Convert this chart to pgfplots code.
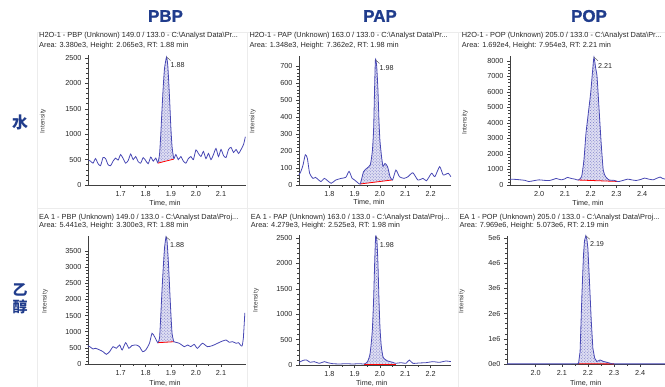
\documentclass[border=0pt]{standalone}
\usepackage{fontspec}
\setmainfont{Liberation Sans}
\newfontfamily\cjk{Noto Sans CJK SC}
\newfontfamily\hdrfont[BoldFeatures={FakeBold=1.3}]{Liberation Sans}
\usepackage{pgfplots}
\pgfplotsset{compat=1.18}
\usetikzlibrary{patterns}
\definecolor{trace}{RGB}{72,72,180}
\definecolor{peakfill}{RGB}{222,222,242}
\definecolor{hdr}{RGB}{32,60,140}
\definecolor{frame}{RGB}{236,236,236}
\pgfplotsset{chrom/.style={
  scale only axis, axis lines*=left,
  axis line style={-,draw=black!75,line width=0.6bp},
  tick align=outside, major tick length=3bp, minor tick length=1.6bp,
  every tick/.style={black!75, line width=0.5bp},
  minor y tick num=4, minor x tick num=1,
  ymin=0, clip=false, scaled ticks=false,
  tick label style={font=\fontsize{7.3}{8}\selectfont, text=black!85},
  /pgf/number format/1000 sep={},
  /pgf/number format/assume math mode=true,
  xticklabel style={/pgf/number format/fixed,/pgf/number format/fixed zerofill,/pgf/number format/precision=1},
}}
\tikzset{ttl/.style={anchor=west,font=\fontsize{7.4}{8}\selectfont,text=black!85,inner sep=0pt},
  ylab/.style={rotate=90,font=\fontsize{6.5}{7}\selectfont,text=black!75,inner sep=0pt},
  xlab/.style={font=\fontsize{7.2}{8}\selectfont,text=black!85,inner sep=0pt},
  pk/.style={anchor=west,font=\fontsize{7.2}{8}\selectfont,text=black!85,inner sep=0pt,xshift=4bp,yshift=-8.5bp},
  lead/.style={black!70,line width=0.4bp},
  pkfill/.style={draw=none, fill=peakfill, postaction={pattern=crosshatch dots, pattern color=trace!75}},
  tr/.style={trace, line width=0.8bp, smooth, tension=0.35},
  hdrs/.style={font=\hdrfont\bfseries\fontsize{17}{18}\selectfont,text=hdr}}
\begin{document}
\begin{tikzpicture}
\path[use as bounding box] (0,0) rectangle (665bp,387bp);
% frames
\draw[frame,line width=0.5bp] (37.7bp,0) -- (37.7bp,355bp) -- (665bp,355bp);
\draw[frame,line width=0.5bp] (247.3bp,0) -- (247.3bp,355bp);
\draw[frame,line width=0.5bp] (458.3bp,0) -- (458.3bp,355bp);
\draw[frame,line width=0.5bp] (37.7bp,179bp) -- (665bp,179bp);
% headers
\node[hdrs] at (165.5bp,371bp) {PBP};
\node[hdrs] at (380bp,371bp) {PAP};
\node[hdrs] at (589bp,371bp) {POP};
\node[font=\cjk\fontsize{16}{17}\selectfont\bfseries,text=hdr] at (20bp,265bp) {水};
\node[font=\cjk\fontsize{15}{16}\selectfont\bfseries,text=hdr] at (20bp,97bp) {乙};
\node[font=\cjk\fontsize{15}{16}\selectfont\bfseries,text=hdr] at (20bp,80bp) {醇};
% titles
\node[ttl] at (39bp,351bp) {H2O-1 - PBP (Unknown) 149.0 / 133.0 - C:\textbackslash Analyst Data\textbackslash Pr...};
\node[ttl] at (39bp,341bp) {Area: 3.380e3, Height: 2.065e3, RT: 1.88 min};
\node[ttl] at (249.3bp,351bp) {H2O-1 - PAP (Unknown) 163.0 / 133.0 - C:\textbackslash Analyst Data\textbackslash Pr...};
\node[ttl] at (249.3bp,341bp) {Area: 1.348e3, Height: 7.362e2, RT: 1.98 min};
\node[ttl] at (461.7bp,351bp) {H2O-1 - POP (Unknown) 205.0 / 133.0 - C:\textbackslash Analyst Data\textbackslash Pr...};
\node[ttl] at (461.7bp,341bp) {Area: 1.692e4, Height: 7.954e3, RT: 2.21 min};
\node[ttl] at (39bp,169.3bp) {EA 1 - PBP (Unknown) 149.0 / 133.0 - C:\textbackslash Analyst Data\textbackslash Proj...};
\node[ttl] at (39bp,161bp) {Area: 5.441e3, Height: 3.300e3, RT: 1.88 min};
\node[ttl] at (250.7bp,169.3bp) {EA 1 - PAP (Unknown) 163.0 / 133.0 - C:\textbackslash Analyst Data\textbackslash Proj...};
\node[ttl] at (250.7bp,161bp) {Area: 4.279e3, Height: 2.525e3, RT: 1.98 min};
\node[ttl] at (459.3bp,169.3bp) {EA 1 - POP (Unknown) 205.0 / 133.0 - C:\textbackslash Analyst Data\textbackslash Proj...};
\node[ttl] at (459.3bp,161bp) {Area: 7.969e6, Height: 5.073e6, RT: 2.19 min};
% axis labels
\node[ylab] at (43bp,266bp) {Intensity};
\node[ylab] at (252.7bp,265.3bp) {Intensity};
\node[ylab] at (465bp,264.5bp) {Intensity};
\node[ylab] at (45bp,85.3bp) {Intensity};
\node[ylab] at (256bp,86.3bp) {Intensity};
\node[ylab] at (461.7bp,85.3bp) {Intensity};
\node[xlab] at (165bp,184bp) {Time, min};
\node[xlab] at (369bp,184.3bp) {Time, min};
\node[xlab] at (588bp,184bp) {Time, min};
\node[xlab] at (165bp,4bp) {Time, min};
\node[xlab] at (371.7bp,4bp) {Time, min};
\node[xlab] at (585.7bp,4bp) {Time, min};

% ---------- Panel 1: H2O PBP
\begin{axis}[chrom, at={(88bp,202bp)}, anchor=south west, width=158.1bp, height=129.5bp,
  xmin=1.57, xmax=2.2, ymax=2550, xtick={1.7,1.8,1.9,2.0,2.1}, ytick={0,500,1000,1500,2000,2500}]
\addplot[pkfill] coordinates {(1.848,440) (1.855,600) (1.86,1000) (1.865,1500) (1.87,1950) (1.875,2300) (1.883,2520) (1.888,2350) (1.892,2000) (1.896,1600) (1.90,1150) (1.905,750) (1.912,520)} -- cycle;
\addplot[red, line width=0.8bp] coordinates {(1.848,430) (1.912,510)};
\addplot[tr] coordinates {
(1.572,490) (1.58,470) (1.59,430) (1.60,520) (1.61,420) (1.62,380) (1.63,540) (1.64,520) (1.65,400) (1.66,380)
(1.67,470) (1.68,530) (1.69,490) (1.70,600) (1.71,520) (1.72,430) (1.73,480) (1.74,610) (1.75,500) (1.76,560)
(1.77,460) (1.78,430) (1.79,540) (1.80,480) (1.81,420) (1.82,550) (1.83,470) (1.84,530) (1.848,440) (1.855,600)
(1.86,1000) (1.865,1500) (1.87,1950) (1.875,2300) (1.883,2520) (1.888,2350) (1.892,2000) (1.896,1600) (1.90,1150) (1.905,750)
(1.912,520) (1.92,600) (1.93,500) (1.94,560) (1.95,470) (1.96,430) (1.97,520) (1.98,560) (1.99,500) (2.00,690)
(2.01,620) (2.02,560) (2.03,660) (2.04,520) (2.05,620) (2.06,500) (2.07,600) (2.08,720) (2.09,560) (2.10,700)
(2.11,580) (2.12,540) (2.13,700) (2.14,740) (2.15,640) (2.16,700) (2.17,620) (2.18,700) (2.19,800) (2.197,950)};
\draw[lead] (axis cs:1.883,2520) -- ++(4bp,-3.5bp);
\node[pk] at (axis cs:1.883,2520) {1.88};
\end{axis}

% ---------- Panel 2: H2O PAP
\begin{axis}[chrom, at={(299bp,202bp)}, anchor=south west, width=151.8bp, height=129.2bp,
  xmin=1.68, xmax=2.28, ymax=760, xtick={1.8,1.9,2.0,2.1,2.2}, ytick={0,100,...,700}]
\addplot[pkfill] coordinates {(1.922,6) (1.935,78) (1.948,98) (1.962,120) (1.97,200) (1.975,330) (1.978,520) (1.982,736) (1.987,700) (1.992,560) (1.996,380) (2.0,260) (2.006,170) (2.012,110) (2.02,127) (2.03,108) (2.04,49) (2.05,30)} -- cycle;
\addplot[red, line width=0.8bp] coordinates {(1.922,6) (2.05,30)};
\addplot[tr] coordinates {
(1.68,60) (1.687,78) (1.696,118) (1.705,178) (1.713,157) (1.722,69) (1.735,39) (1.745,45) (1.755,33) (1.767,20)
(1.78,39) (1.79,29) (1.807,10) (1.825,29) (1.847,39) (1.865,45) (1.878,80) (1.89,39) (1.90,29) (1.912,14)
(1.922,6) (1.935,78) (1.948,98) (1.962,120) (1.97,200) (1.975,330) (1.978,520) (1.982,736) (1.987,700) (1.992,560)
(1.996,380) (2.0,260) (2.006,170) (2.012,110) (2.02,127) (2.03,108) (2.04,49) (2.05,30) (2.063,88) (2.077,49)
(2.095,39) (2.111,49) (2.13,72) (2.15,29) (2.17,39) (2.184,25) (2.204,69) (2.217,49) (2.236,108) (2.25,59)
(2.27,69) (2.28,49)};
\draw[lead] (axis cs:1.982,736) -- ++(4bp,-3.5bp);
\node[pk] at (axis cs:1.982,736) {1.98};
\end{axis}

% ---------- Panel 3: H2O POP
\begin{axis}[chrom, at={(510bp,202bp)}, anchor=south west, width=155.3bp, height=128.7bp,
  xmin=1.887, xmax=2.49, ymax=8300, xtick={2.0,2.1,2.2,2.3,2.4}, ytick={0,1000,...,8000}]
\addplot[pkfill] coordinates {(2.152,320) (2.165,540) (2.174,1610) (2.182,3330) (2.191,4620) (2.20,5910) (2.208,7420) (2.213,8240) (2.22,7500) (2.225,6990) (2.233,4840) (2.241,2690) (2.249,970) (2.258,540) (2.272,320) (2.29,300) (2.304,230)} -- cycle;
\addplot[red, line width=0.8bp] coordinates {(2.152,320) (2.304,230)};
\addplot[tr] coordinates {
(1.887,378) (1.91,360) (1.927,333) (1.945,300) (1.96,222) (1.98,280) (2.0,333) (2.02,300) (2.04,290) (2.055,360)
(2.066,422) (2.086,333) (2.10,400) (2.11,490) (2.125,420) (2.139,378) (2.152,320) (2.165,540) (2.174,1610) (2.182,3330)
(2.191,4620) (2.20,5910) (2.208,7420) (2.213,8240) (2.22,7500) (2.225,6990) (2.233,4840) (2.241,2690) (2.249,970) (2.258,540)
(2.272,320) (2.29,300) (2.304,230) (2.31,222) (2.327,300) (2.344,378) (2.36,330) (2.377,290) (2.395,360) (2.41,445)
(2.425,380) (2.443,333) (2.455,420) (2.47,510) (2.48,420) (2.49,378)};
\draw[lead] (axis cs:2.213,8240) -- ++(4bp,-3.5bp);
\node[pk] at (axis cs:2.213,8240) {2.21};
\end{axis}

% ---------- Panel 4: EA PBP
\begin{axis}[chrom, at={(88bp,23bp)}, anchor=south west, width=158.1bp, height=128.2bp,
  xmin=1.57, xmax=2.2, ymax=3970, xtick={1.7,1.8,1.9,2.0,2.1}, ytick={0,500,...,3500}]
\addplot[pkfill] coordinates {(1.848,660) (1.855,800) (1.86,1500) (1.865,2300) (1.87,3000) (1.875,3600) (1.881,3940) (1.885,3800) (1.89,3200) (1.895,2400) (1.90,1600) (1.905,950) (1.912,690)} -- cycle;
\addplot[red, line width=0.8bp] coordinates {(1.848,660) (1.912,690)};
\addplot[tr] coordinates {
(1.569,560) (1.577,537) (1.59,465) (1.60,486) (1.617,434) (1.63,382) (1.643,300) (1.656,382) (1.67,537) (1.683,486)
(1.696,589) (1.706,434) (1.72,660) (1.733,486) (1.745,570) (1.762,589) (1.775,537) (1.788,382) (1.80,434) (1.815,641)
(1.825,951) (1.835,848) (1.848,660) (1.855,800) (1.86,1500) (1.865,2300) (1.87,3000) (1.875,3600) (1.881,3940) (1.885,3800)
(1.89,3200) (1.895,2400) (1.90,1600) (1.905,950) (1.912,690) (1.92,672) (1.934,641) (1.954,537) (1.967,589) (1.98,537)
(1.993,610) (2.006,486) (2.026,641) (2.046,537) (2.066,570) (2.086,641) (2.10,692) (2.12,744) (2.133,672) (2.146,692)
(2.16,641) (2.17,660) (2.178,580) (2.184,560) (2.189,800) (2.195,1580)};
\draw[lead] (axis cs:1.881,3940) -- ++(4bp,-3.5bp);
\node[pk] at (axis cs:1.881,3940) {1.88};
\end{axis}

% ---------- Panel 5: EA PAP
\begin{axis}[chrom, at={(299bp,22bp)}, anchor=south west, width=151.8bp, height=130bp,
  xmin=1.68, xmax=2.28, ymax=2560, xtick={1.8,1.9,2.0,2.1,2.2}, ytick={0,500,...,2500}]
\addplot[pkfill] coordinates {(1.938,15) (1.951,66) (1.96,200) (1.965,400) (1.970,700) (1.975,1300) (1.979,2000) (1.983,2530) (1.988,2450) (1.992,2000) (1.996,1300) (2.0,750) (2.005,380) (2.012,160) (2.02,110) (2.03,80) (2.04,66) (2.05,53) (2.062,15)} -- cycle;
\addplot[red, line width=0.8bp] coordinates {(1.938,15) (2.062,15)};
\addplot[tr] coordinates {
(1.68,53) (1.697,92) (1.71,98) (1.724,53) (1.74,66) (1.76,33) (1.78,66) (1.793,46) (1.813,26) (1.84,20)
(1.866,26) (1.892,20) (1.919,26) (1.938,20) (1.951,66) (1.96,200) (1.965,400) (1.970,700) (1.975,1300) (1.979,2000)
(1.983,2530) (1.988,2450) (1.992,2000) (1.996,1300) (2.0,750) (2.005,380) (2.012,160) (2.02,110) (2.03,80) (2.04,66)
(2.05,53) (2.062,33) (2.083,46) (2.103,33) (2.116,98) (2.13,33) (2.156,40) (2.182,46) (2.209,66) (2.235,53)
(2.261,79) (2.28,66)};
\draw[lead] (axis cs:1.983,2530) -- ++(4bp,-3.5bp);
\node[pk] at (axis cs:1.983,2530) {1.98};
\end{axis}

% ---------- Panel 6: EA POP
\begin{axis}[chrom, at={(507bp,23bp)}, anchor=south west, width=157.9bp, height=128.5bp,
  xmin=1.89, xmax=2.495, ymax=5.1, xtick={2.0,2.1,2.2,2.3,2.4}, ytick={0,1,2,3,4,5},
  yticklabels={0e0,1e6,2e6,3e6,4e6,5e6}]
\addplot[pkfill] coordinates {(2.16,0.008) (2.164,0.02) (2.17,0.49) (2.177,2.74) (2.183,4.33) (2.187,4.9) (2.192,5.09) (2.196,4.95) (2.2,4.59) (2.206,3.27) (2.213,1.68) (2.219,0.62) (2.226,0.23) (2.234,0.10) (2.247,0.16) (2.26,0.10) (2.279,0.05) (2.292,0.01) (2.30,0.005)} -- cycle;
\addplot[red, line width=0.8bp] coordinates {(2.16,0.008) (2.30,0.005)};
\addplot[trace, line width=0.8bp] coordinates {
(1.89,0.005) (1.95,0.005) (2.0,0.005) (2.05,0.006) (2.10,0.005) (2.14,0.006) (2.16,0.008) (2.164,0.02) (2.17,0.49) (2.177,2.74)
(2.183,4.33) (2.187,4.9) (2.192,5.09) (2.196,4.95) (2.2,4.59) (2.206,3.27) (2.213,1.68) (2.219,0.62) (2.226,0.23) (2.234,0.10)
(2.247,0.16) (2.26,0.10) (2.279,0.05) (2.292,0.01) (2.30,0.005) (2.35,0.005) (2.40,0.005) (2.45,0.005) (2.495,0.005)};
\draw[lead] (axis cs:2.192,5.09) -- ++(4bp,-3.5bp);
\node[pk] at (axis cs:2.192,5.09) {2.19};
\end{axis}
\end{tikzpicture}
\end{document}
